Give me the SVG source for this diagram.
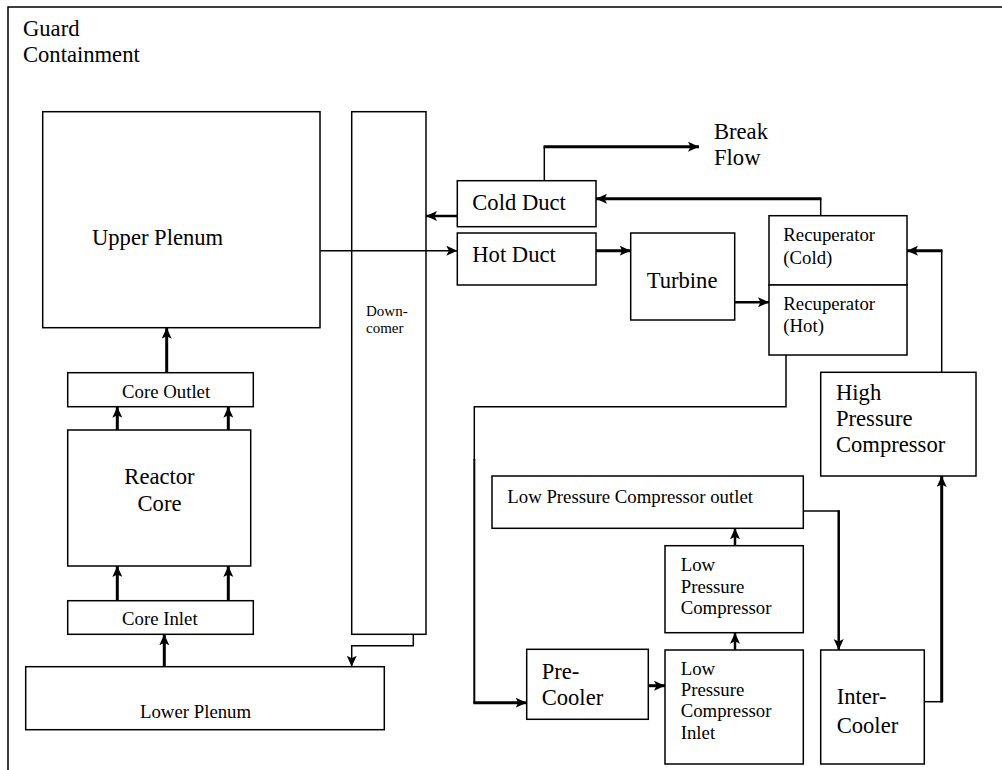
<svg xmlns="http://www.w3.org/2000/svg" width="1002" height="770" viewBox="0 0 1002 770" font-family="'Liberation Serif', 'Times New Roman', Times, 'DejaVu Serif', serif">
<style>
  .box { fill: #ffffff; stroke: #000000; stroke-width: 1.5; }
  .frame { fill: none; stroke: #000000; stroke-width: 1.5; }
  text { font-family: 'Liberation Serif', 'Times New Roman', Times, 'DejaVu Serif', serif; fill: #000000; }
  .lg { font-size: 22.6px; }
  .sm { font-size: 18.8px; }
  .xs { font-size: 15px; }
  .mid { text-anchor: middle; }
  .c { fill: none; stroke: #000000; stroke-linejoin: miter; }
  .thin { stroke-width: 1.5; }
  .med { stroke-width: 2.5; }
  .thick { stroke-width: 3; }
  .arr { marker-end: url(#ah); }
</style>
<defs>
  <marker id="ah" markerUnits="userSpaceOnUse" markerWidth="12" markerHeight="10" refX="11" refY="5" orient="auto">
    <path d="M0,0 L11,5 L0,10 L2.5,5 Z" fill="#000000"/>
  </marker>
</defs>
<rect x="0" y="0" width="1002" height="770" fill="#ffffff"/>

<g id="guard-containment">
  <path class="frame" d="M8,770 V7 H1002"/>
  <text class="lg" x="23" y="35.5" font-family="'Liberation Serif', serif">Guard</text>
  <text class="lg" x="23" y="62" font-family="'Liberation Serif', serif">Containment</text>
</g>

<g id="upper-plenum">
  <rect class="box" x="42.7" y="111.7" width="277.3" height="216"/>
  <text class="lg" x="92" y="245">Upper Plenum</text>
</g>

<g id="downcomer">
  <rect class="box" x="351.7" y="111.7" width="74.3" height="522.6"/>
  <text class="xs" x="366" y="316">Down-</text>
  <text class="xs" x="366" y="332.5">comer</text>
</g>

<g id="core-outlet">
  <rect class="box" x="67.7" y="372.7" width="185.6" height="34"/>
  <text class="sm" x="122" y="398.3">Core Outlet</text>
</g>

<g id="reactor-core">
  <rect class="box" x="67.7" y="430" width="183" height="136"/>
  <text class="lg mid" x="159.5" y="484.3">Reactor</text>
  <text class="lg mid" x="159.5" y="511">Core</text>
</g>

<g id="core-inlet">
  <rect class="box" x="67.7" y="600.7" width="185.6" height="33.6"/>
  <text class="sm" x="122" y="625">Core Inlet</text>
</g>

<g id="lower-plenum">
  <rect class="box" x="25.7" y="666.7" width="358.6" height="63"/>
  <text class="sm" x="140" y="717.7">Lower Plenum</text>
</g>

<g id="cold-duct">
  <rect class="box" x="457.3" y="180.7" width="138.7" height="46"/>
  <text class="lg" x="472.3" y="210">Cold Duct</text>
</g>

<g id="hot-duct">
  <rect class="box" x="457.3" y="233" width="138.7" height="52"/>
  <text class="lg" x="472.3" y="261.7">Hot Duct</text>
</g>

<g id="turbine">
  <rect class="box" x="630.7" y="233" width="104" height="87"/>
  <text class="lg" x="646.7" y="287.7">Turbine</text>
</g>

<g id="break-flow">
  <text class="lg" x="714" y="139">Break</text>
  <text class="lg" x="714" y="165">Flow</text>
</g>

<g id="recuperator-cold">
  <rect class="box" x="769" y="215.7" width="138" height="69.3"/>
  <text class="sm" x="783.3" y="240.5">Recuperator</text>
  <text class="sm" x="783.3" y="264">(Cold)</text>
</g>

<g id="recuperator-hot">
  <rect class="box" x="769" y="285" width="138" height="70"/>
  <text class="sm" x="783.3" y="309.8">Recuperator</text>
  <text class="sm" x="783.3" y="331.7">(Hot)</text>
</g>

<g id="high-pressure-compressor">
  <rect class="box" x="820.7" y="372.3" width="155.3" height="103.7"/>
  <text class="lg" x="836" y="400">High</text>
  <text class="lg" x="836" y="426">Pressure</text>
  <text class="lg" x="836" y="451.7">Compressor</text>
</g>

<g id="lpc-outlet">
  <rect class="box" x="492" y="476" width="311.3" height="52.3"/>
  <text class="sm" x="507.3" y="502.7">Low Pressure Compressor outlet</text>
</g>

<g id="low-pressure-compressor">
  <rect class="box" x="665" y="545.7" width="138.3" height="87"/>
  <text class="sm" x="680.7" y="571">Low</text>
  <text class="sm" x="680.7" y="592.5">Pressure</text>
  <text class="sm" x="680.7" y="614">Compressor</text>
</g>

<g id="lpc-inlet">
  <rect class="box" x="665" y="650" width="138.3" height="114"/>
  <text class="sm" x="680.7" y="674.8">Low</text>
  <text class="sm" x="680.7" y="695.8">Pressure</text>
  <text class="sm" x="680.7" y="717">Compressor</text>
  <text class="sm" x="680.7" y="739">Inlet</text>
</g>

<g id="pre-cooler">
  <rect class="box" x="526.7" y="649.3" width="121.6" height="70"/>
  <text class="lg" x="541.7" y="679">Pre-</text>
  <text class="lg" x="541.7" y="705">Cooler</text>
</g>

<g id="inter-cooler">
  <rect class="box" x="820.7" y="650" width="103.6" height="114"/>
  <text class="lg" x="836.7" y="704">Inter-</text>
  <text class="lg" x="836.7" y="733">Cooler</text>
</g>

<g id="connectors">
  <path class="c thin arr" d="M320,250.7 H457.3"/>
  <path class="c med arr" d="M457.3,216 H426"/>
  <path class="c thin" d="M544.3,180.7 V146.7"/>
  <path class="c thick arr" d="M543.5,146.7 H699"/>
  <path class="c thin" d="M820.7,215.7 V198.8"/>
  <path class="c thick arr" d="M821.5,198.8 H596"/>
  <path class="c thick arr" d="M596,250.7 H630.7"/>
  <path class="c med arr" d="M734.7,302.3 H769"/>
  <path class="c thin" d="M941.7,372.3 V250.7"/>
  <path class="c thick arr" d="M942.5,250.7 H907"/>
  <path class="c thin" d="M786,355 V406.7 H474.3 V460"/>
  <path class="c" style="stroke-width:2" d="M474.3,459 V702.7"/>
  <path class="c thick arr" d="M473.3,702.7 H526.7"/>
  <path class="c thick arr" d="M648.3,685.7 H665"/>
  <path class="c med arr" d="M735,650 V632.7"/>
  <path class="c med arr" d="M735,545.7 V528.3"/>
  <path class="c thin" d="M803.3,511 H839.5"/>
  <path class="c med arr" d="M838.7,510.3 V650"/>
  <path class="c thin" d="M924.3,701.7 H942.5"/>
  <path class="c thick arr" d="M941.7,702.4 V476"/>
  <path class="c thick arr" d="M166.7,372.7 V327.7"/>
  <path class="c thick arr" d="M117.3,430 V406.7"/>
  <path class="c thick arr" d="M228.3,430 V406.7"/>
  <path class="c thick arr" d="M117.3,600.7 V566"/>
  <path class="c thick arr" d="M228.3,600.7 V566"/>
  <path class="c thick arr" d="M164.3,666.7 V634.3"/>
  <path class="c thin arr" d="M413.3,634.3 V645.7 H351.7 V666.7"/>
</g>
</svg>
